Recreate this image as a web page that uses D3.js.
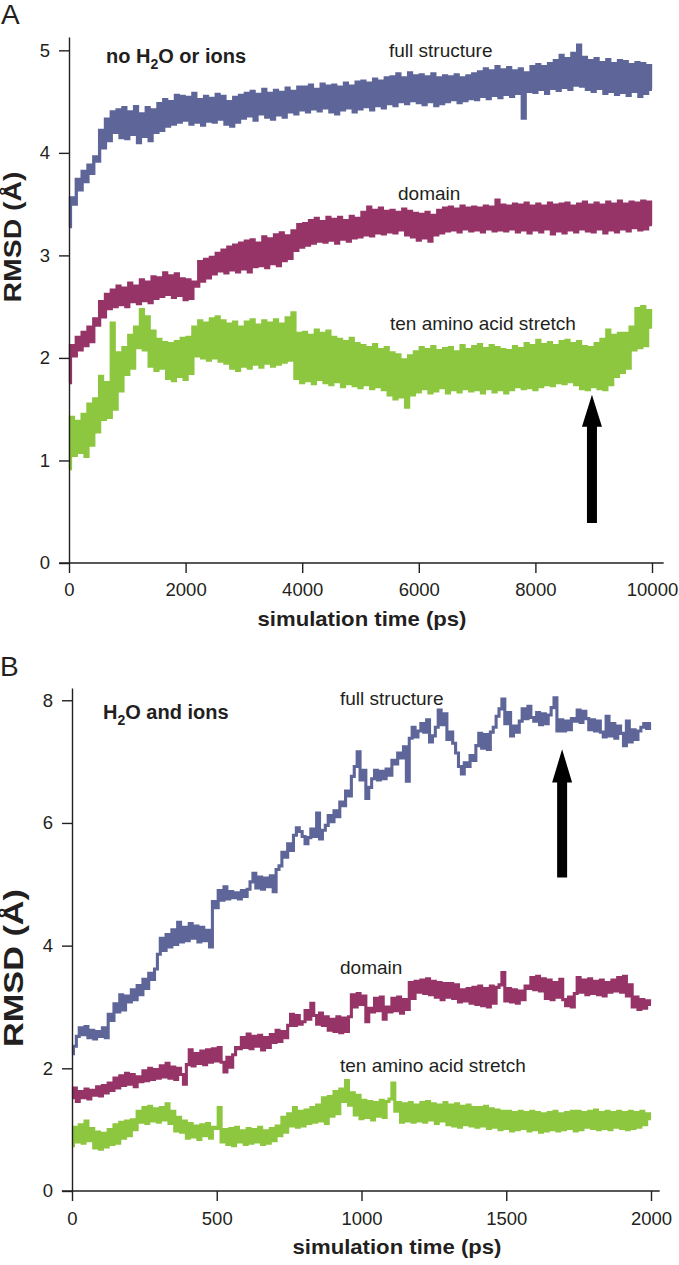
<!DOCTYPE html>
<html>
<head>
<meta charset="utf-8">
<script src="https://cdn.jsdelivr.net/npm/d3@7"></script>
<style>
  body { margin: 0; background: #fff; }
  svg { display: block; font-family: "Liberation Sans", Arial, sans-serif; }
</style>
</head>
<body>
<div class="visualization"></div>
<script>
// ---- panel A: no H2O or ions, 0-10000 ps, one value every 50 ps ----
const stepA = 50;
const fullA = [
  3.28, 3.56, 3.50, 3.74, 3.64, 3.82, 3.72, 3.88, 3.80, 3.96,
  3.92, 4.22, 4.05, 4.33, 4.12, 4.40, 4.20, 4.42, 4.15, 4.44,
  4.14, 4.40, 4.18, 4.45, 4.10, 4.38, 4.16, 4.44, 4.12, 4.42,
  4.20, 4.48, 4.22, 4.52, 4.26, 4.50, 4.28, 4.56, 4.30, 4.55,
  4.32, 4.54, 4.28, 4.58, 4.30, 4.52, 4.27, 4.55, 4.31, 4.53,
  4.30, 4.57, 4.33, 4.55, 4.28, 4.50, 4.26, 4.54, 4.30, 4.56,
  4.34, 4.58, 4.36, 4.60, 4.32, 4.57, 4.38, 4.62, 4.35, 4.58,
  4.33, 4.61, 4.37, 4.59, 4.35, 4.63, 4.40, 4.60, 4.38, 4.64,
  4.42, 4.64, 4.40, 4.66, 4.43, 4.62, 4.41, 4.67, 4.44, 4.65,
  4.40, 4.66, 4.38, 4.64, 4.42, 4.68, 4.44, 4.65, 4.40, 4.69,
  4.43, 4.70, 4.45, 4.68, 4.42, 4.72, 4.46, 4.70, 4.44, 4.73,
  4.48, 4.74, 4.46, 4.77, 4.50, 4.73, 4.48, 4.78, 4.51, 4.75,
  4.49, 4.76, 4.47, 4.74, 4.50, 4.77, 4.46, 4.73, 4.48, 4.75,
  4.50, 4.74, 4.52, 4.76, 4.49, 4.73, 4.51, 4.75, 4.53, 4.77,
  4.52, 4.79, 4.55, 4.82, 4.53, 4.80, 4.56, 4.84, 4.54, 4.81,
  4.57, 4.83, 4.55, 4.80, 4.58, 4.82, 4.34, 4.78, 4.60, 4.84,
  4.59, 4.86, 4.62, 4.84, 4.58, 4.87, 4.63, 4.90, 4.61, 4.95,
  4.64, 4.92, 4.62, 4.97, 4.66, 5.05, 4.65, 4.93, 4.62, 4.90,
  4.60, 4.92, 4.63, 4.88, 4.58, 4.91, 4.60, 4.87, 4.57, 4.90,
  4.59, 4.89, 4.56, 4.86, 4.60, 4.88, 4.55, 4.87, 4.58, 4.85,
  4.62
];
const domainA = [
  1.76, 2.12, 2.02, 2.20, 2.08, 2.25, 2.12, 2.30, 2.16, 2.38,
  2.32, 2.55, 2.40, 2.62, 2.48, 2.66, 2.50, 2.70, 2.52, 2.68,
  2.50, 2.73, 2.55, 2.70, 2.53, 2.76, 2.56, 2.74, 2.54, 2.79,
  2.58, 2.78, 2.60, 2.83, 2.62, 2.80, 2.59, 2.82, 2.61, 2.77,
  2.57, 2.76, 2.58, 2.74, 2.70, 2.94, 2.75, 2.96, 2.78, 2.98,
  2.82, 3.02, 2.85, 3.05, 2.83, 3.08, 2.86, 3.10, 2.84, 3.12,
  2.87, 3.14, 2.84, 3.15, 2.89, 3.12, 2.90, 3.18, 2.88, 3.16,
  2.92, 3.20, 2.90, 3.22, 2.95, 3.19, 2.97, 3.24, 3.05, 3.30,
  3.08, 3.31, 3.10, 3.34, 3.12, 3.36, 3.14, 3.33, 3.13, 3.37,
  3.15, 3.35, 3.12, 3.37, 3.16, 3.34, 3.14, 3.38, 3.17, 3.36,
  3.18, 3.42, 3.20, 3.47, 3.19, 3.44, 3.22, 3.46, 3.21, 3.43,
  3.23, 3.44, 3.22, 3.42, 3.25, 3.45, 3.20, 3.43, 3.18, 3.41,
  3.15, 3.40, 3.17, 3.42, 3.14, 3.39, 3.20, 3.44, 3.22, 3.46,
  3.24, 3.47, 3.25, 3.45, 3.23, 3.48, 3.26, 3.46, 3.24, 3.47,
  3.25, 3.46, 3.23, 3.48, 3.26, 3.47, 3.24, 3.54, 3.25, 3.49,
  3.24, 3.48, 3.26, 3.50, 3.23, 3.49, 3.25, 3.51, 3.22, 3.48,
  3.25, 3.50, 3.23, 3.48, 3.26, 3.51, 3.21, 3.49, 3.24, 3.50,
  3.22, 3.51, 3.25, 3.48, 3.23, 3.50, 3.26, 3.52, 3.24, 3.49,
  3.23, 3.51, 3.26, 3.49, 3.22, 3.52, 3.25, 3.50, 3.23, 3.53,
  3.26, 3.50, 3.24, 3.52, 3.27, 3.51, 3.25, 3.53, 3.26, 3.52,
  3.30
];
const stretchA = [
  0.92, 1.42, 1.05, 1.38, 1.08, 1.45, 1.04, 1.55, 1.15, 1.60,
  1.28, 1.82, 1.40, 1.76, 1.42, 2.34, 1.50, 2.05, 1.68, 2.10,
  1.84, 2.22, 1.90, 2.30, 2.10, 2.47, 2.08, 2.40, 1.92, 2.26,
  1.88, 2.18, 1.90, 2.15, 1.80, 2.14, 1.78, 2.16, 1.82, 2.19,
  1.79, 2.20, 1.85, 2.30, 2.02, 2.36, 2.00, 2.34, 1.98, 2.38,
  2.00, 2.40, 1.97, 2.36, 1.95, 2.33, 1.90, 2.35, 1.88, 2.30,
  1.92, 2.35, 1.90, 2.37, 1.94, 2.32, 1.91, 2.36, 1.95, 2.34,
  1.92, 2.37, 1.94, 2.33, 1.96, 2.39, 1.98, 2.44, 1.80, 2.24,
  1.76, 2.25, 1.78, 2.22, 1.75, 2.27, 1.79, 2.24, 1.76, 2.26,
  1.74, 2.20, 1.77, 2.18, 1.72, 2.16, 1.75, 2.19, 1.73, 2.14,
  1.71, 2.12, 1.74, 2.10, 1.70, 2.13, 1.72, 2.08, 1.69, 2.10,
  1.64, 2.05, 1.60, 2.03, 1.62, 1.98, 1.52, 2.02, 1.64, 2.06,
  1.67, 2.10, 1.70, 2.08, 1.66, 2.11, 1.68, 2.07, 1.71, 2.09,
  1.66, 2.10, 1.69, 2.06, 1.67, 2.12, 1.70, 2.08, 1.68, 2.11,
  1.69, 2.13, 1.66, 2.09, 1.70, 2.12, 1.67, 2.10, 1.69, 2.08,
  1.66, 2.07, 1.69, 2.11, 1.72, 2.09, 1.70, 2.14, 1.71, 2.12,
  1.69, 2.17, 1.72, 2.13, 1.74, 2.15, 1.73, 2.12, 1.76, 2.16,
  1.75, 2.17, 1.77, 2.14, 1.74, 2.16, 1.70, 2.11, 1.69, 2.10,
  1.72, 2.14, 1.70, 2.18, 1.69, 2.27, 1.74, 2.22, 1.82, 2.24,
  1.86, 2.24, 1.90, 2.30, 2.08, 2.48, 2.10, 2.50, 2.12, 2.46,
  2.30
];

// ---- panel B: H2O and ions, 0-2000 ps, one value every 10 ps ----
const stepB = 10;
const fullB = [
  2.24, 2.36, 2.52, 2.66, 2.55, 2.68, 2.50, 2.62, 2.48, 2.60,
  2.52, 2.66, 2.50, 2.88, 2.78, 3.05, 2.92, 3.20, 2.95, 3.18,
  3.08, 3.28, 3.12, 3.35, 3.20, 3.45, 3.30, 3.55, 3.45, 3.62,
  3.86, 4.12, 3.92, 4.18, 3.98, 4.26, 4.02, 4.38, 4.06, 4.30,
  4.08, 4.36, 4.12, 4.32, 4.06, 4.30, 4.08, 4.25, 3.98, 4.72,
  4.62, 4.90, 4.74, 4.96, 4.76, 4.88, 4.78, 4.86, 4.76, 4.90,
  4.80, 4.92, 5.04, 5.18, 4.94, 5.12, 4.92, 5.10, 4.96, 5.14,
  4.88, 5.24, 5.30, 5.52, 5.44, 5.66, 5.55, 5.80, 5.92, 5.86,
  5.78, 5.66, 5.76, 5.90, 5.78, 6.16, 5.74, 5.88, 5.96, 6.12,
  6.02, 6.20, 6.10, 6.34, 6.28, 6.52, 6.44, 6.76, 6.92, 7.16,
  6.70, 6.86, 6.40, 6.58, 6.72, 6.86, 6.70, 6.84, 6.72, 6.88,
  6.78, 7.02, 6.96, 7.14, 7.06, 7.24, 6.68, 7.38, 7.56, 7.40,
  7.50, 7.62, 7.48, 7.68, 7.32, 7.42, 7.56, 7.84, 7.60, 7.78,
  7.36, 7.48, 7.30, 7.14, 6.92, 6.80, 6.98, 6.92, 7.10, 7.02,
  7.26, 7.46, 7.22, 7.44, 7.20, 7.48, 7.56, 7.74, 7.86, 8.02,
  7.62, 7.80, 7.42, 7.58, 7.48, 7.66, 7.86, 7.70, 7.90, 7.72,
  7.66, 7.80, 7.60, 7.78, 7.62, 7.76, 7.88, 8.04, 7.50, 7.68,
  7.50, 7.66, 7.52, 7.70, 7.66, 7.84, 7.64, 7.82, 7.70, 7.52,
  7.68, 7.50, 7.66, 7.48, 7.40, 7.74, 7.42, 7.62, 7.38, 7.58,
  7.46, 7.26, 7.66, 7.32, 7.52, 7.36, 7.50, 7.56, 7.62, 7.54,
  7.62
];
const domainB = [
  1.52, 1.68, 1.46, 1.62, 1.52, 1.66, 1.50, 1.64, 1.56, 1.70,
  1.55, 1.72, 1.60, 1.76, 1.64, 1.84, 1.68, 1.88, 1.72, 1.92,
  1.74, 1.90, 1.70, 1.86, 1.78, 1.96, 1.80, 2.00, 1.82, 1.98,
  1.84, 2.04, 1.86, 2.08, 1.84, 2.02, 1.82, 2.00, 1.90, 1.74,
  2.06, 2.30, 2.04, 2.24, 2.08, 2.28, 2.06, 2.30, 2.10, 2.32,
  2.12, 2.34, 2.10, 1.94, 2.18, 2.02, 2.22, 2.34, 2.32, 2.50,
  2.34, 2.56, 2.32, 2.52, 2.36, 2.54, 2.30, 2.50, 2.34, 2.55,
  2.42, 2.62, 2.44, 2.60, 2.50, 2.70, 2.88, 2.70, 2.86, 2.72,
  2.76, 2.94, 2.80, 3.06, 2.86, 2.72, 2.90, 2.70, 2.84, 2.62,
  2.80, 2.60, 2.84, 2.58, 2.82, 2.60, 2.84, 3.20, 3.00, 3.22,
  3.04, 3.18, 2.76, 2.98, 2.92, 3.14, 2.94, 3.16, 2.80, 3.00,
  2.92, 3.14, 2.94, 3.16, 2.90, 3.12, 2.96, 3.40, 3.14, 3.42,
  3.24, 3.44, 3.22, 3.46, 3.20, 3.42, 3.16, 3.40, 3.12, 3.38,
  3.16, 3.38, 3.14, 3.36, 3.08, 3.28, 3.10, 3.30, 3.06, 3.32,
  3.04, 3.34, 3.02, 3.30, 3.00, 3.34, 3.06, 3.32, 3.36, 3.56,
  3.10, 3.30, 3.08, 3.28, 3.06, 3.26, 3.12, 3.34, 3.30, 3.48,
  3.28, 3.50, 3.26, 3.46, 3.14, 3.44, 3.12, 3.40, 3.16, 3.45,
  3.12, 3.02, 3.16, 3.00, 3.22, 3.48, 3.24, 3.44, 3.20, 3.46,
  3.22, 3.42, 3.20, 3.44, 3.18, 3.40, 3.24, 3.44, 3.26, 3.48,
  3.24, 3.50, 3.18, 3.36, 3.00, 3.16, 2.96, 3.12, 2.98, 3.10,
  3.04
];
const stretchB = [
  0.74, 1.04, 0.80, 1.08, 0.78, 1.14, 0.82, 1.02, 0.70, 0.96,
  0.68, 0.94, 0.72, 1.00, 0.76, 1.08, 0.78, 1.12, 0.86, 1.14,
  0.90, 1.16, 1.00, 1.30, 1.12, 1.36, 1.10, 1.38, 1.14, 1.34,
  1.12, 1.36, 1.16, 1.42, 1.10, 1.30, 0.98, 1.20, 0.96, 1.14,
  0.86, 1.10, 0.88, 1.06, 0.84, 1.08, 0.90, 1.10, 0.86, 1.04,
  1.02, 1.36, 0.80, 1.00, 0.76, 1.02, 0.74, 1.04, 0.80, 0.98,
  0.76, 1.02, 0.78, 1.00, 0.80, 1.04, 0.76, 0.98, 0.78, 1.02,
  0.82, 1.06, 0.90, 1.20, 0.96, 1.26, 1.06, 1.36, 1.04, 1.30,
  1.06, 1.32, 1.10, 1.36, 1.12, 1.40, 1.14, 1.52, 1.10, 1.54,
  1.22, 1.62, 1.26, 1.66, 1.46, 1.80, 1.40, 1.60, 1.24, 1.56,
  1.18, 1.48, 1.20, 1.46, 1.16, 1.44, 1.22, 1.48, 1.20, 1.46,
  1.50, 1.76, 1.30, 1.44, 1.12, 1.42, 1.14, 1.44, 1.12, 1.40,
  1.14, 1.44, 1.12, 1.46, 1.16, 1.42, 1.10, 1.40, 1.14, 1.44,
  1.08, 1.40, 1.06, 1.42, 1.04, 1.38, 1.08, 1.40, 1.06, 1.36,
  1.04, 1.36, 1.06, 1.38, 1.02, 1.34, 1.04, 1.32, 1.00, 1.30,
  1.02, 1.30, 0.98, 1.28, 1.00, 1.30, 1.02, 1.28, 0.98, 1.30,
  1.00, 1.28, 0.96, 1.26, 0.98, 1.28, 1.00, 1.30, 0.98, 1.26,
  1.00, 1.28, 1.02, 1.30, 0.98, 1.30, 1.00, 1.28, 1.04, 1.30,
  1.02, 1.32, 1.00, 1.28, 1.02, 1.30, 1.00, 1.28, 1.04, 1.30,
  1.02, 1.28, 1.00, 1.30, 1.02, 1.28, 1.04, 1.30, 1.08, 1.26,
  1.18
];

const seriesNames = ["full structure", "domain", "ten amino acid stretch"];
const seriesColors = ["#5e6699", "#963468", "#8dc63f"];
const xTicksA = [0, 2000, 4000, 6000, 8000, 10000];
const yTicksA = [0, 1, 2, 3, 4, 5];
const xTicksB = [0, 500, 1000, 1500, 2000];
const yTicksB = [0, 2, 4, 6, 8];

const ink = "#231f20";
const font = '"Liberation Sans", Arial, sans-serif';

const svg = d3.select(".visualization")
  .append("svg")
  .attr("width", 679)
  .attr("height", 1265);

svg.append("rect").attr("width", 679).attr("height", 1265).attr("fill", "#fff");

function drawPanel(p) {
  const x = d3.scaleLinear().domain(p.xDomain).range(p.xRange);
  const y = d3.scaleLinear().domain(p.yDomain).range(p.yRange);
  const line = d3.line()
    .x((d) => x(d[0]))
    .y((d) => y(d[1]))
    .curve(d3.curveStep);

  p.series.forEach((values, k) => {
    const pts = values.map((v, i) => [i * p.step, v]);
    svg.append("path")
      .datum(pts)
      .attr("fill", "none")
      .attr("stroke", seriesColors[k])
      .attr("stroke-width", p.lineWidth)
      .attr("d", line);
  });

  // y axis
  const yAxis = svg.append("g")
    .attr("transform", `translate(${p.xRange[0]},0)`)
    .call(d3.axisLeft(y).tickValues(p.yTicks).tickFormat(d3.format("d"))
      .tickSize(10).tickPadding(p.yPad).tickSizeOuter(0));
  yAxis.attr("font-family", font).attr("font-size", 18.5);
  yAxis.selectAll("line, path").attr("stroke", ink).attr("stroke-width", 1.4);
  yAxis.selectAll("text").attr("fill", ink);

  // x axis (its base line runs a little past both ends)
  const xAxis = svg.append("g")
    .attr("transform", `translate(0,${p.yRange[0]})`)
    .call(d3.axisBottom(x).tickValues(p.xTicks).tickFormat(d3.format("d"))
      .tickSize(10).tickPadding(p.xPad).tickSizeOuter(0));
  xAxis.select(".domain").remove();
  xAxis.append("line")
    .attr("x1", x(p.xLine[0])).attr("x2", x(p.xLine[1]))
    .attr("y1", 0).attr("y2", 0);
  xAxis.attr("font-family", font).attr("font-size", 18.5);
  xAxis.selectAll("line").attr("stroke", ink).attr("stroke-width", 1.4);
  xAxis.selectAll("text").attr("fill", ink);

  // axis titles
  svg.append("text")
    .attr("x", p.xTitle[0]).attr("y", p.xTitle[1])
    .attr("text-anchor", "middle")
    .attr("font-weight", "bold").attr("font-size", 21)
    .attr("textLength", 209).attr("lengthAdjust", "spacingAndGlyphs")
    .attr("fill", ink)
    .text("simulation time (ps)");

  svg.append("text")
    .attr("transform", `translate(${p.yTitle[0]},${p.yTitle[1]}) rotate(-90)`)
    .attr("text-anchor", "middle")
    .attr("font-weight", "bold").attr("font-size", p.yTitle[2])
    .attr("textLength", p.yTitle[3]).attr("lengthAdjust", "spacingAndGlyphs")
    .attr("fill", ink)
    .text("RMSD (Å)");

  // panel letter
  svg.append("text")
    .attr("x", p.letter[1]).attr("y", p.letter[2])
    .attr("font-size", 28).attr("fill", ink)
    .text(p.letter[0]);

  // condition label with subscript
  const cond = svg.append("text")
    .attr("x", p.cond[0]).attr("y", p.cond[1])
    .attr("font-weight", "bold").attr("font-size", 20).attr("fill", ink);
  cond.append("tspan").text(p.condParts[0]);
  cond.append("tspan").attr("dy", 6).attr("font-size", 14).text("2");
  cond.append("tspan").attr("dy", -6).text(p.condParts[1]);

  // series labels
  seriesNames.forEach((name, k) => {
    svg.append("text")
      .attr("x", p.labels[k][0]).attr("y", p.labels[k][1])
      .attr("font-size", 19).attr("fill", ink)
      .text(name);
  });

  // arrow
  const a = p.arrow;
  const cx = x(a.t);
  const arrowPath = d3.path();
  arrowPath.moveTo(cx, y(a.tip));
  arrowPath.lineTo(cx + 10, y(a.head));
  arrowPath.lineTo(cx + 5, y(a.head));
  arrowPath.lineTo(cx + 5, y(a.tail));
  arrowPath.lineTo(cx - 5, y(a.tail));
  arrowPath.lineTo(cx - 5, y(a.head));
  arrowPath.lineTo(cx - 10, y(a.head));
  arrowPath.closePath();
  svg.append("path").attr("d", arrowPath.toString()).attr("fill", "#000");
}

drawPanel({
  series: [fullA, domainA, stretchA],
  step: stepA,
  xDomain: [0, 10000], xRange: [69, 652],
  yDomain: [0, 5.13], yRange: [563, 37],
  xLine: [-170, 10200],
  xTicks: xTicksA, yTicks: yTicksA,
  xPad: 10, yPad: 9,
  lineWidth: 3.3,
  xTitle: [362, 626],
  yTitle: [21, 237, 24, 131],
  letter: ["A", 1, 24],
  cond: [106, 63],
  condParts: ["no H", "O or ions"],
  labels: [[389, 57], [398, 200], [390, 330]],
  arrow: { t: 8970, tip: 1.64, head: 1.33, tail: 0.39 }
});

drawPanel({
  series: [fullB, domainB, stretchB],
  step: stepB,
  xDomain: [0, 2000], xRange: [72, 651],
  yDomain: [0, 8.2], yRange: [1191, 688],
  xLine: [-35, 2030],
  xTicks: xTicksB, yTicks: yTicksB,
  xPad: 11, yPad: 9,
  lineWidth: 3.1,
  xTitle: [397, 1254],
  yTitle: [23, 968, 27, 158],
  letter: ["B", 0, 676],
  cond: [103, 719],
  condParts: ["H", "O and ions"],
  labels: [[340, 705], [340, 974], [340, 1072]],
  arrow: { t: 1693, tip: 7.2, head: 6.66, tail: 5.11 }
});
</script>
</body>
</html>
